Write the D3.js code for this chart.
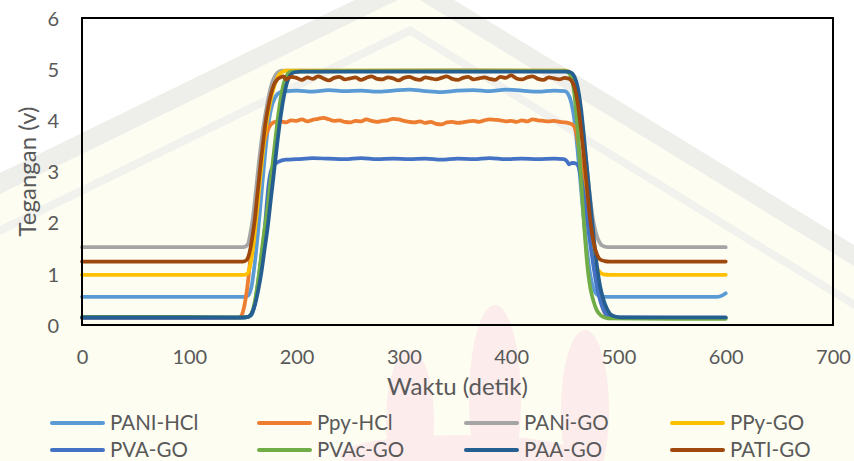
<!DOCTYPE html>
<html>
<head>
<meta charset="utf-8">
<script src="https://cdn.jsdelivr.net/npm/d3@7"></script>
<style>
  html, body { margin: 0; padding: 0; background: #fdfdf1; }
  svg { display: block; }
  text { font-family: Lato, "Open Sans", sans-serif; }
</style>
</head>
<body>
<svg id="chart" width="854" height="461"></svg>
<script>
// Series labels and colours (legend order = drawing order)
const seriesNames = ["PANI-HCl", "Ppy-HCl", "PANi-GO", "PPy-GO", "PVA-GO", "PVAc-GO", "PAA-GO", "PATI-GO"];
const seriesColors = ["#5b9bd5", "#ed7d31", "#a5a5a5", "#ffc000", "#4472c4", "#70ad47", "#255e91", "#9e480e"];

const xTicks = [0, 100, 200, 300, 400, 500, 600, 700];
const yTicks = [0, 1, 2, 3, 4, 5, 6];

// [time (s), voltage (V)]
const paniHCl = [[0,0.55],[60,0.55],[120,0.55],[152,0.55],[155,0.58],[158,0.75],[161,1.2],[164,1.8],[167,2.5],[170,3.2],[173,3.8],[176,4.2],[180,4.45],[185,4.55],[190,4.57],
  [200,4.58],[215,4.56],[230,4.59],[245,4.57],[260,4.58],[275,4.56],[290,4.58],[305,4.6],[320,4.57],[335,4.55],[350,4.58],[365,4.59],[380,4.57],[395,4.6],[410,4.58],[425,4.56],[440,4.58],[450,4.57],
  [453,4.52],[456,4.35],[459,4.0],[462,3.4],[465,2.7],[468,2.0],[471,1.4],[474,0.95],[477,0.7],[481,0.58],[486,0.55],[540,0.55],[592,0.55],[597,0.58],[600,0.62]];

const ppyHCl = [[0,0.14],[100,0.14],[146,0.14],[149,0.2],[152,0.45],[155,0.9],[158,1.55],[161,2.2],[164,2.8],[167,3.3],[170,3.6],[173,3.8],[176,3.92],[180,3.97],
  [185,3.98],[190,3.96],[195,4.0],[200,3.99],[205,4.02],[210,3.98],[215,4.01],[220,4.03],[225,4.05],[230,4.02],[235,3.99],[240,4.0],[245,3.97],[250,3.96],[255,3.99],[260,3.98],
  [265,4.02],[270,3.99],[275,3.97],[280,3.99],[285,4.0],[290,4.03],[295,4.02],[300,3.99],[305,3.97],[310,3.96],[315,3.98],[320,3.95],[325,3.97],[330,3.93],[335,3.92],[340,3.96],
  [345,3.97],[350,3.95],[355,3.96],[360,3.98],[365,3.99],[370,3.97],[375,4.0],[380,4.02],[385,4.01],[390,4.0],[395,3.98],[400,3.99],[405,3.97],[410,4.0],[415,3.98],[420,4.02],
  [425,4.0],[430,3.99],[435,3.98],[440,3.99],[445,3.97],[450,3.96],
  [453,3.95],[456,3.93],[459,3.87],[462,3.6],[465,3.2],[468,2.75],[471,2.25],[474,1.8],[477,1.35],[480,0.9],[483,0.55],[486,0.3],[490,0.17],[496,0.14],[550,0.14],[600,0.14]];

const paniGO = [[0,1.52],[100,1.52],[150,1.52],[153,1.54],[155,1.6],[157,1.8],[159,2.05],[161,2.4],[163,2.8],[165,3.2],[167,3.55],[170,4.0],[173,4.35],[176,4.65],[179,4.83],[182,4.93],[186,4.97],
  [250,4.97],[350,4.98],[450,4.97],
  [454,4.95],[458,4.85],[461,4.65],[464,4.3],[467,3.8],[470,3.2],[473,2.6],[476,2.1],[479,1.8],[482,1.63],[485,1.55],[490,1.52],[550,1.52],[600,1.52]];

const ppyGO = [[0,0.98],[100,0.98],[150,0.98],[154,1.0],[156,1.1],[158,1.3],[160,1.6],[162,2.0],[164,2.4],[166,2.85],[168,3.25],[171,3.8],[174,4.2],[177,4.5],[180,4.72],[183,4.87],[187,4.95],[191,4.97],
  [250,4.97],[350,4.97],[450,4.97],
  [454,4.95],[458,4.85],[461,4.6],[464,4.2],[466,3.75],[469,3.1],[472,2.1],[475,1.5],[478,1.2],[482,1.05],[486,0.99],[492,0.98],[550,0.98],[600,0.98]];

const pvaGO = [[0,0.14],[100,0.14],[150,0.14],[155,0.16],[158,0.2],[161,0.4],[164,0.8],[167,1.3],[170,1.8],[172,2.3],[174,2.75],[176,3.0],[179,3.12],[183,3.19],[190,3.23],
  [200,3.24],[215,3.26],[230,3.25],[245,3.24],[260,3.26],[275,3.24],[290,3.25],[305,3.24],[320,3.25],[335,3.23],[350,3.25],[365,3.24],[380,3.26],[395,3.24],[410,3.25],[425,3.24],[440,3.25],[449,3.24],
  [452,3.2],[454,3.14],[457,3.17],[461,3.15],[464,3.0],[467,2.65],[470,2.2],[473,1.7],[476,1.25],[479,0.85],[482,0.55],[485,0.35],[488,0.22],[492,0.15],[550,0.14],[600,0.14]];

const pvacGO = [[0,0.16],[100,0.16],[150,0.15],[155,0.16],[158,0.22],[161,0.45],[164,0.85],[167,1.35],[170,1.85],[173,2.3],[176,2.85],[179,3.4],[182,3.95],[185,4.4],[188,4.72],[191,4.88],[195,4.95],
  [250,4.96],[350,4.96],[450,4.96],
  [453,4.94],[456,4.85],[458,4.65],[460,4.3],[462,3.8],[464,3.2],[466,2.55],[468,1.95],[470,1.4],[472,0.98],[474,0.7],[477,0.45],[480,0.28],[484,0.18],[490,0.13],[550,0.12],[600,0.12]];

const paaGO = [[0,0.15],[100,0.15],[150,0.15],[155,0.16],[158,0.22],[161,0.38],[164,0.65],[167,1.0],[170,1.45],[173,1.9],[176,2.45],[179,3.0],[182,3.55],[185,4.05],[188,4.45],[191,4.73],[194,4.88],[198,4.94],[204,4.95],
  [300,4.95],[400,4.95],[452,4.95],
  [456,4.93],[459,4.85],[462,4.65],[465,4.25],[468,3.65],[471,3.0],[474,2.35],[477,1.7],[480,1.15],[483,0.75],[486,0.5],[489,0.33],[492,0.22],[496,0.17],[502,0.15],[550,0.15],[600,0.15]];

const patiGO = [[0,1.24],[100,1.24],[150,1.24],[153,1.26],[155,1.33],[157,1.5],[159,1.75],[161,2.05],[163,2.45],[165,2.85],[167,3.25],[169,3.6],[171,3.95],[173,4.2],[176,4.5],[179,4.7],[182,4.8],[185,4.84],
  [188,4.86],[190,4.8],[195,4.85],[200,4.83],[205,4.79],[210,4.84],[215,4.81],[220,4.86],[225,4.82],[230,4.78],[235,4.83],[240,4.85],[245,4.8],[250,4.82],[255,4.84],[260,4.79],
  [265,4.83],[270,4.86],[275,4.81],[280,4.8],[285,4.84],[290,4.82],[295,4.78],[300,4.83],[305,4.85],[310,4.81],[315,4.79],[320,4.84],[325,4.82],[330,4.8],[335,4.83],[340,4.86],
  [345,4.81],[350,4.79],[355,4.83],[360,4.85],[365,4.8],[370,4.82],[375,4.84],[380,4.81],[385,4.79],[390,4.85],[395,4.83],[400,4.88],[405,4.82],[410,4.8],[415,4.84],[420,4.86],
  [425,4.81],[430,4.79],[435,4.84],[440,4.82],[445,4.8],[450,4.83],
  [453,4.82],[456,4.78],[459,4.65],[462,4.35],[465,3.85],[468,3.25],[471,2.6],[474,2.0],[477,1.6],[480,1.38],[483,1.28],[487,1.25],[492,1.24],[550,1.24],[600,1.24]];

const seriesData = [paniHCl, ppyHCl, paniGO, ppyGO, pvaGO, pvacGO, paaGO, patiGO];

const svg = d3.select("#chart");
const W = 854, H = 461;
const plot = { left: 82, top: 18, right: 833, bottom: 325 };

// ---- page background ----
const bg = svg.append("g").attr("class", "background");
bg.append("rect").attr("width", W).attr("height", H).attr("fill", "#fdfdf1");
bg.append("path").attr("d", "M0,0 L0,173 L410,-27 L854,245 L854,0 Z").attr("fill", "#ffffff");
bg.append("path").attr("d", "M0,173 L410,-27 L854,245 L854,266 L410,-6 L0,194 Z").attr("fill", "#eeeeeb");
bg.append("path").attr("d", "M0,226 L410,26 L854,300 L854,309 L410,35 L0,235 Z").attr("fill", "#f1f1ee");
[[410, 420, 24, 70], [495, 400, 26, 95], [585, 410, 24, 80], [460, 455, 120, 20]].forEach(([cx, cy, rx, ry]) => {
  bg.append("ellipse").attr("cx", cx).attr("cy", cy).attr("rx", rx).attr("ry", ry).attr("fill", "#fcecec");
});

// ---- scales ----
const x = d3.scaleLinear().domain([0, 700]).range([plot.left, plot.right]);
const y = d3.scaleLinear().domain([0, 6]).range([plot.bottom, plot.top]);

// ---- axes ----
const xAxis = svg.append("g").attr("transform", `translate(0,${plot.bottom})`)
  .call(d3.axisBottom(x).tickValues(xTicks).tickSize(0).tickFormat(d3.format("d")));
xAxis.select(".domain").remove();
xAxis.selectAll("text").attr("dy", null).attr("y", 39)
  .attr("font-size", 20).attr("fill", "#595959").style("font-family", "Lato, sans-serif");

const yAxis = svg.append("g").attr("transform", `translate(${plot.left},0)`)
  .call(d3.axisLeft(y).tickValues(yTicks).tickSize(0).tickFormat(d3.format("d")));
yAxis.select(".domain").remove();
yAxis.selectAll("text").attr("x", -23).attr("dy", "0.36em")
  .attr("font-size", 20).attr("fill", "#595959").style("font-family", "Lato, sans-serif");

// ---- lines ----
const line = d3.line().x(d => x(d[0])).y(d => y(d[1])).curve(d3.curveMonotoneX);
svg.append("g").selectAll("path").data(seriesData).join("path")
  .attr("d", line)
  .attr("fill", "none")
  .attr("stroke", (d, i) => seriesColors[i])
  .attr("stroke-width", 3.75)
  .attr("stroke-linejoin", "round")
  .attr("stroke-linecap", "round");

// ---- plot border ----
svg.append("rect")
  .attr("x", plot.left).attr("y", plot.top)
  .attr("width", plot.right - plot.left).attr("height", plot.bottom - plot.top)
  .attr("fill", "none").attr("stroke", "#000").attr("stroke-width", 2);

// ---- axis titles ----
svg.append("text").attr("x", (plot.left + plot.right) / 2).attr("y", 395)
  .attr("text-anchor", "middle").attr("font-size", 24).attr("fill", "#595959")
  .text("Waktu (detik)");
svg.append("text")
  .attr("transform", `translate(36,${(plot.top + plot.bottom) / 2}) rotate(-90)`)
  .attr("text-anchor", "middle").attr("font-size", 24).attr("fill", "#595959")
  .text("Tegangan (v)");

// ---- legend ----
const colX = [52, 259, 466, 672];
const rowY = [423, 450];
const legend = svg.append("g").selectAll("g").data(seriesNames).join("g")
  .attr("transform", (d, i) => `translate(${colX[i % 4]},${rowY[Math.floor(i / 4)]})`);
legend.append("line").attr("x1", 0).attr("x2", 51).attr("y1", 0).attr("y2", 0)
  .attr("stroke", (d, i) => seriesColors[i]).attr("stroke-width", 4).attr("stroke-linecap", "round");
legend.append("text").attr("x", 58).attr("dy", "0.36em")
  .attr("font-size", 20.5).attr("fill", "#595959").text(d => d);
</script>
</body>
</html>
